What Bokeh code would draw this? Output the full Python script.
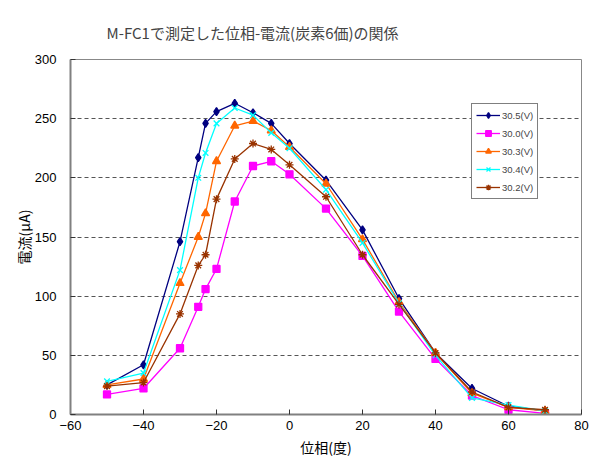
from bokeh.plotting import figure
from bokeh.embed import file_html
from bokeh.resources import INLINE
from bokeh.models import FixedTicker, Legend, LegendItem, Range1d

phase = [-50, -40, -30, -25, -23, -20, -15, -10, -5, 0, 10, 20, 30, 40, 50, 60, 70]
v305 = [25, 42, 146, 217, 246, 256, 263, 255, 246, 229, 198, 156, 98, 52, 22, 7, 3]
v300 = [17, 22, 56, 91, 106, 123, 180, 210, 214, 203, 174, 134, 87, 47, 16, 4, 1]
v303 = [25, 30, 111, 150, 170, 214, 244, 248, 240, 226, 195, 148, 95, 52, 18, 6, 3]
v304 = [28, 35, 122, 200, 221, 246, 259, 253, 238, 225, 190, 145, 94, 50, 14, 8, 3]
v302 = [24, 27, 85, 126, 135, 182, 216, 229, 224, 211, 184, 135, 93, 52, 19, 6, 4]
labels = ["30.5(V)", "30.0(V)", "30.3(V)", "30.4(V)", "30.2(V)"]
x_ticks = [-60, -40, -20, 0, 20, 40, 60, 80]
y_ticks = [0, 50, 100, 150, 200, 250, 300]

FONT = "Noto Sans CJK JP"
NUMFONT = "Liberation Sans"

p = figure(width=589, height=459, output_backend="svg", toolbar_location=None,
           x_range=Range1d(-60, 80), y_range=Range1d(0, 300),
           min_border_left=70, min_border_right=8, min_border_top=59, min_border_bottom=45)

p.title.text = "M-FC1で測定した位相-電流(炭素6価)の関係"
p.title.text_font = FONT
p.title.text_font_size = "15px"
p.title.text_font_style = "normal"
p.title.align = "left"
p.title.offset = 36
p.title.standoff = 34

p.outline_line_color = "#888888"
p.outline_line_width = 1

p.xgrid.grid_line_color = None
p.ygrid.grid_line_color = "#555555"
p.ygrid.grid_line_dash = "4 3"
p.ygrid.grid_line_width = 1

for ax, ticks in ((p.xaxis[0], x_ticks), (p.yaxis[0], y_ticks)):
    ax.ticker = FixedTicker(ticks=ticks)
    ax.axis_line_color = "#808080"
    ax.axis_line_width = 2
    ax.major_tick_in = 5
    ax.major_tick_out = 0
    ax.major_tick_line_color = "#333333"
    ax.minor_tick_line_color = None
    ax.major_label_text_font = NUMFONT
    ax.major_label_text_font_size = "13px"
    ax.major_label_text_color = "#000000"
    ax.axis_label_text_font = FONT
    ax.axis_label_text_font_size = "14px"
    ax.axis_label_text_font_style = "normal"
    ax.axis_label_text_color = "#000000"

p.xaxis.major_label_standoff = 6
p.xaxis.axis_label = "位相(度)"
p.xaxis.axis_label_standoff = 4
p.yaxis.major_label_standoff = 14
p.yaxis.axis_label = "電流(μA)"
p.yaxis.axis_label_standoff = -2

series = [
    (v305, "#000080", "diamond", 8),
    (v300, "#FF00FF", "square", 7),
    (v303, "#FF6600", "triangle", 8),
    (v304, "#00FFFF", "x", 8),
    (v302, "#993300", "asterisk", 8),
]
items = []
for (vals, col, mk, sz), lab in zip(series, labels):
    ln = p.line(phase, vals, line_color=col, line_width=1.3)
    sc = p.scatter(phase, vals, marker=mk, size=sz, fill_color=col, line_color=col, line_width=1.3)
    items.append(LegendItem(label=lab, renderers=[ln, sc]))

legend = Legend(items=items, location=(401, 215), orientation="vertical",
                label_text_font=NUMFONT, label_text_font_size="9.5px",
                glyph_width=24, glyph_height=14, label_height=14, spacing=4,
                padding=4, margin=0, label_standoff=2,
                border_line_color="#000000", border_line_width=1,
                background_fill_color="white", background_fill_alpha=1)
p.add_layout(legend, "center")

open("out.html", "w").write(file_html(p, INLINE))
